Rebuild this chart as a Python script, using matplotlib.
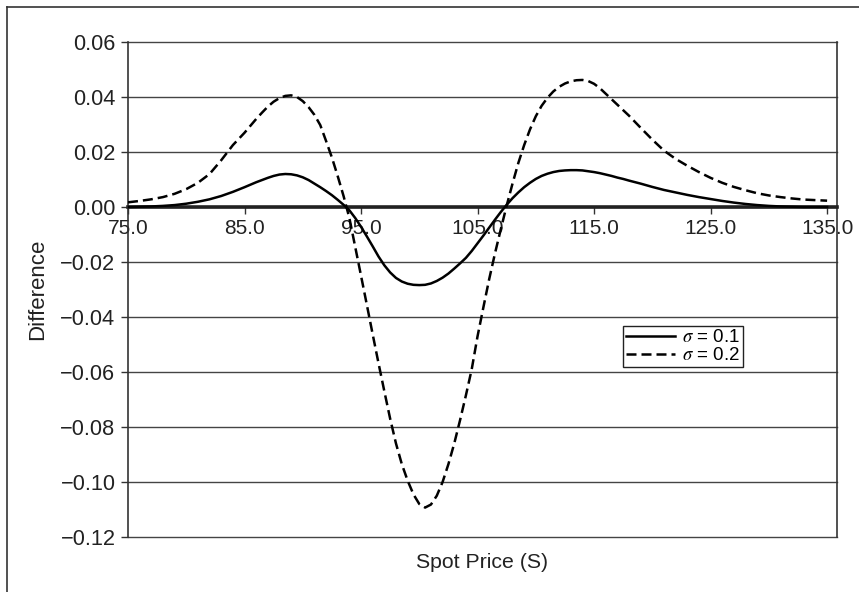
import numpy as np
import matplotlib
matplotlib.use("Agg")
import matplotlib.pyplot as plt
from matplotlib.lines import Line2D

plt.rcParams['font.family'] = ['Liberation Sans', 'DejaVu Sans']
plt.rcParams['mathtext.fontset'] = 'stix'

# spot prices: steps of 1 at the tails, 0.5 in the middle where curves bend
spot = ([75, 76, 77, 78, 79, 80, 81, 82, 83, 84, 85]
        + [85.5 + 0.5 * i for i in range(64)]
        + [117.5, 118, 119, 120, 121, 122, 123, 124, 125, 126, 127, 128, 129, 130,
           131, 132, 133, 134, 135])

# sigma = 0.1
diff_01 = ([0.0000, 0.0001, 0.0002, 0.0004, 0.0007, 0.0012, 0.0019, 0.0028, 0.0040, 0.0055, 0.0072]
           + [0.0081, 0.0090, 0.0098, 0.0106, 0.0113, 0.0118, 0.0120, 0.0119, 0.0115, 0.0108,
              0.0098, 0.0085, 0.0072, 0.0058, 0.0043, 0.0026, 0.0008, -0.0012, -0.0040, -0.0072,
              -0.0107, -0.0143, -0.0180, -0.0212, -0.0238, -0.0258, -0.0271, -0.0279, -0.0283, -0.0284,
              -0.0283, -0.0278, -0.0269, -0.0257, -0.0242, -0.0224, -0.0205, -0.0185, -0.0160, -0.0132,
              -0.0104, -0.0075, -0.0046, -0.0018, 0.0008, 0.0032, 0.0053, 0.0072, 0.0088, 0.0102,
              0.0113, 0.0121, 0.0127, 0.0131, 0.0133, 0.0134, 0.0134, 0.0133, 0.0130, 0.0127,
              0.0123, 0.0118, 0.0113, 0.0107]
           + [0.0102, 0.0096, 0.0085, 0.0073, 0.0062, 0.0053, 0.0044, 0.0036, 0.0029, 0.0022,
              0.0016, 0.0011, 0.0007, 0.0004, 0.0002, 0.0001, 0.0000, 0.0000, 0.0000])

# sigma = 0.2
diff_02 = ([0.0017, 0.0022, 0.0028, 0.0036, 0.0048, 0.0065, 0.0088, 0.0120, 0.0170, 0.0225, 0.0270]
           + [0.0295, 0.0320, 0.0343, 0.0365, 0.0383, 0.0396, 0.0404, 0.0406, 0.0400, 0.0385,
              0.0363, 0.0335, 0.0298, 0.0240, 0.0180, 0.0112, 0.0040, -0.0040, -0.0145, -0.0250,
              -0.0356, -0.0463, -0.0568, -0.0670, -0.0770, -0.0860, -0.0935, -0.0995, -0.1045, -0.1080,
              -0.1093, -0.1082, -0.1050, -0.1000, -0.0935, -0.0860, -0.0775, -0.0685, -0.0590, -0.0470,
              -0.0365, -0.0262, -0.0168, -0.0080, 0.0005, 0.0085, 0.0160, 0.0225, 0.0282, 0.0330,
              0.0368, 0.0397, 0.0420, 0.0437, 0.0449, 0.0457, 0.0461, 0.0462, 0.0458, 0.0448,
              0.0432, 0.0412, 0.0392, 0.0372]
           + [0.0352, 0.0332, 0.0288, 0.0245, 0.0205, 0.0175, 0.0150, 0.0127, 0.0106, 0.0088,
              0.0073, 0.0061, 0.0050, 0.0042, 0.0036, 0.0031, 0.0027, 0.0025, 0.0023])

xticks = [75.0, 85.0, 95.0, 105.0, 115.0, 125.0, 135.0]
yticks = [-0.12, -0.10, -0.08, -0.06, -0.04, -0.02, 0.00, 0.02, 0.04, 0.06]

W, H = 859, 592
fig = plt.figure(figsize=(W / 100, H / 100), dpi=100)
ax = fig.add_axes([128 / W, 1 - 537 / H, (837 - 128) / W, (537 - 42) / H])

ax.plot(spot, diff_01, color='black', lw=1.8, label=r'$\sigma$ = 0.1', zorder=3)
ax.plot(spot, diff_02, color='black', lw=1.8, dashes=(4, 2), label=r'$\sigma$ = 0.2', zorder=3)

ax.set_xlim(75, 135.85)
ax.set_ylim(-0.12, 0.06)
ax.set_xticks(xticks)
ax.set_xticklabels(['%.1f' % v for v in xticks])
ax.set_yticks(yticks)
ax.set_yticklabels([('%.2f' % v).replace('-', '\u2212') for v in yticks])

ax.yaxis.grid(True, color='#444444', lw=1.0)
for gl in ax.get_ygridlines():
    gl.set_clip_on(False)
ax.set_axisbelow(True)

# x axis sits on zero
ax.spines['bottom'].set_position(('data', 0))
ax.spines['bottom'].set_linewidth(2.6)
ax.spines['bottom'].set_color('#222222')
ax.spines['top'].set_visible(False)
for s in ['left', 'right']:
    ax.spines[s].set_color('#333333')
    ax.spines[s].set_linewidth(1.2)

ax.tick_params(axis='x', direction='out', length=5, width=1, color='#333333',
               labelsize=15, pad=4, labelcolor='#222222')
ax.tick_params(axis='y', direction='out', length=5, width=1, color='#333333',
               labelsize=15.7, pad=4, labelcolor='#222222')

ax.set_ylabel('Difference', fontsize=16, color='#222222')
ax.yaxis.set_label_coords(-0.113, 0.5)
fig.text(482 / W, 1 - 563 / H, 'Spot Price (S)', fontsize=15.3, color='#222222',
         ha='center', va='center')

leg = ax.legend(loc='lower right', bbox_to_anchor=((743 - 128) / 709, (537 - 367) / 495),
                fontsize=13.5, frameon=True, fancybox=False, framealpha=1,
                handlelength=2.6, labelspacing=0.05, borderpad=0.15,
                handletextpad=0.4, borderaxespad=0)
leg.get_frame().set_edgecolor('#222222')
leg.get_frame().set_linewidth(1.0)

# outer border (left and top visible)
fig.add_artist(Line2D([7 / W, 7 / W], [0, 1 - 7 / H], color='#333333', lw=1.2))
fig.add_artist(Line2D([7 / W, 1], [1 - 7 / H, 1 - 7 / H], color='#333333', lw=1.2))

fig.savefig('out.png', dpi=100)
